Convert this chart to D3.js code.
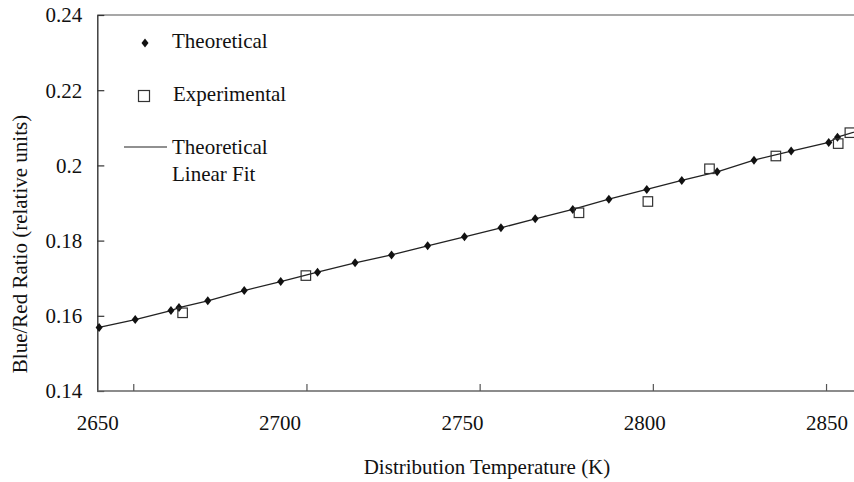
<!DOCTYPE html>
<html>
<head>
<meta charset="utf-8">
<script src="https://cdn.jsdelivr.net/npm/d3@7"></script>
<style>
  body { margin: 0; background: #fff; }
  svg text { font-family: 'Liberation Serif', 'DejaVu Serif', 'Times New Roman', Times, serif; }
</style>
</head>
<body>
<div id="chart"></div>
<script>
// theoretical points (temperature K, blue/red ratio)
const theoT = [2650.5, 2660.4, 2670.2, 2672.4, 2680.3, 2690.3, 2700.3, 2710.4, 2720.7, 2730.7, 2740.6,
  2750.7, 2760.7, 2770.1, 2780.4, 2790.3, 2800.7, 2810.3, 2820.0, 2830.1, 2840.3, 2850.6, 2853.0];
const theoR = [0.1569, 0.1590, 0.1614, 0.1622, 0.1640, 0.1667, 0.1691, 0.1716, 0.1741, 0.1762, 0.1786,
  0.1810, 0.1834, 0.1858, 0.1883, 0.1910, 0.1936, 0.1960, 0.1983, 0.2014, 0.2038, 0.2061, 0.2075];

// experimental points
const expT = [2673.4, 2707.2, 2782.1, 2801.0, 2817.9, 2836.1, 2853.2, 2856.4];
const expR = [0.1608, 0.1707, 0.1874, 0.1904, 0.1991, 0.2025, 0.2058, 0.2087];

// the fit line runs on past the last theoretical point, off the right edge
const fitEndT = [2860];
const fitEndR = [0.2096];

const xLabels = [2650, 2700, 2750, 2800, 2850];
const xTickMarks = [2660, 2707.5, 2755, 2802.5, 2850];
const yTicks = [0.14, 0.16, 0.18, 0.2, 0.22, 0.24];

const WIDTH = 854;
const HEIGHT = 482;
const FONT = 21;

const svg = d3.select("#chart")
  .append("svg")
  .attr("width", WIDTH)
  .attr("height", HEIGHT);

const x = d3.scaleLinear().domain([2650, 2860]).range([97.3, 863]);
const y = d3.scaleLinear().domain([0.14, 0.24]).range([391, 15]);

const theo = theoT.map((t, i) => ({ t: t, r: theoR[i] }));
const exp = expT.map((t, i) => ({ t: t, r: expR[i] }));
const fitLine = theo.concat(fitEndT.map((t, i) => ({ t: t, r: fitEndR[i] })));

// diamond a bit wider than d3's own
const diamond = {
  draw(ctx, size) {
    const h = Math.sqrt(size) / 2;
    const w = h * 0.78;
    ctx.moveTo(0, -h);
    ctx.lineTo(w, 0);
    ctx.lineTo(0, h);
    ctx.lineTo(-w, 0);
    ctx.closePath();
  }
};
const diamondPath = d3.symbol().type(diamond).size(81);

//frame: top border
svg.append("line")
  .attr("x1", x(2650)).attr("x2", WIDTH)
  .attr("y1", y(0.24)).attr("y2", y(0.24))
  .attr("stroke", "#8a8a8a")
  .attr("stroke-width", 1.5);

//Y axis
const yAxis = d3.axisLeft(y)
  .tickValues(yTicks)
  .tickFormat((d) => String(d))
  .tickSizeInner(-7)
  .tickSizeOuter(0)
  .tickPadding(15);

const gy = svg.append("g")
  .attr("transform", "translate(" + x(2650) + ",0)")
  .call(yAxis)
  .attr("font-family", null)
  .attr("font-size", FONT);
gy.select(".domain").attr("stroke", "#333").attr("stroke-width", 1.4);
gy.selectAll(".tick line").attr("stroke", "#333").attr("stroke-width", 1.2);
gy.selectAll(".tick text")
  .attr("fill", "#111")
  .attr("dy", "0.33em");

//X axis (labels only, tick marks drawn separately)
const xAxis = d3.axisBottom(x)
  .tickValues(xLabels)
  .tickFormat((d) => String(d))
  .tickSize(0)
  .tickPadding(24);

const gx = svg.append("g")
  .attr("transform", "translate(0," + y(0.14) + ")")
  .call(xAxis)
  .attr("font-family", null)
  .attr("font-size", FONT);
gx.select(".domain").remove();
gx.selectAll(".tick text").attr("fill", "#111");

svg.append("line")
  .attr("x1", x(2650)).attr("x2", WIDTH)
  .attr("y1", y(0.14)).attr("y2", y(0.14))
  .attr("stroke", "#666")
  .attr("stroke-width", 1.6);

svg.append("g")
  .selectAll("line")
  .data(xTickMarks)
  .enter()
  .append("line")
  .attr("x1", (d) => x(d)).attr("x2", (d) => x(d))
  .attr("y1", y(0.14)).attr("y2", y(0.14) - 7)
  .attr("stroke", "#555")
  .attr("stroke-width", 1.2);

//axis titles
svg.append("text")
  .attr("x", 487)
  .attr("y", 474)
  .attr("text-anchor", "middle")
  .attr("font-size", FONT)
  .attr("fill", "#111")
  .text("Distribution Temperature (K)");

svg.append("text")
  .attr("transform", "translate(27,244) rotate(-90)")
  .attr("text-anchor", "middle")
  .attr("font-size", FONT)
  .attr("fill", "#111")
  .text("Blue/Red Ratio (relative units)");

//fit line
const line = d3.line().x((d) => x(d.t)).y((d) => y(d.r));
svg.append("path")
  .datum(fitLine)
  .attr("d", line)
  .attr("fill", "none")
  .attr("stroke", "#222")
  .attr("stroke-width", 1.3);

//theoretical diamonds
svg.append("g")
  .selectAll("path")
  .data(theo)
  .enter()
  .append("path")
  .attr("d", diamondPath)
  .attr("transform", (d) => "translate(" + x(d.t) + "," + y(d.r) + ")")
  .attr("fill", "#111");

//experimental squares
const SQ = 9.5;
svg.append("g")
  .selectAll("rect")
  .data(exp)
  .enter()
  .append("rect")
  .attr("x", (d) => x(d.t) - SQ / 2)
  .attr("y", (d) => y(d.r) - SQ / 2)
  .attr("width", SQ)
  .attr("height", SQ)
  .attr("fill", "none")
  .attr("stroke", "#333")
  .attr("stroke-width", 1.2);

//LEGEND
const legend = svg.append("g").attr("font-size", FONT).attr("fill", "#111");

legend.append("path")
  .attr("d", diamondPath)
  .attr("transform", "translate(145,43)")
  .attr("fill", "#111");
legend.append("text").attr("x", 172).attr("y", 48).text("Theoretical");

legend.append("rect")
  .attr("x", 138.5).attr("y", 90.5)
  .attr("width", 11).attr("height", 11)
  .attr("fill", "none")
  .attr("stroke", "#333")
  .attr("stroke-width", 1.2);
legend.append("text").attr("x", 173).attr("y", 101).text("Experimental");

legend.append("line")
  .attr("x1", 124).attr("x2", 167)
  .attr("y1", 147).attr("y2", 147)
  .attr("stroke", "#222")
  .attr("stroke-width", 1.2);
legend.append("text").attr("x", 172).attr("y", 154).text("Theoretical");
legend.append("text").attr("x", 172).attr("y", 181).text("Linear Fit");
</script>
</body>
</html>
